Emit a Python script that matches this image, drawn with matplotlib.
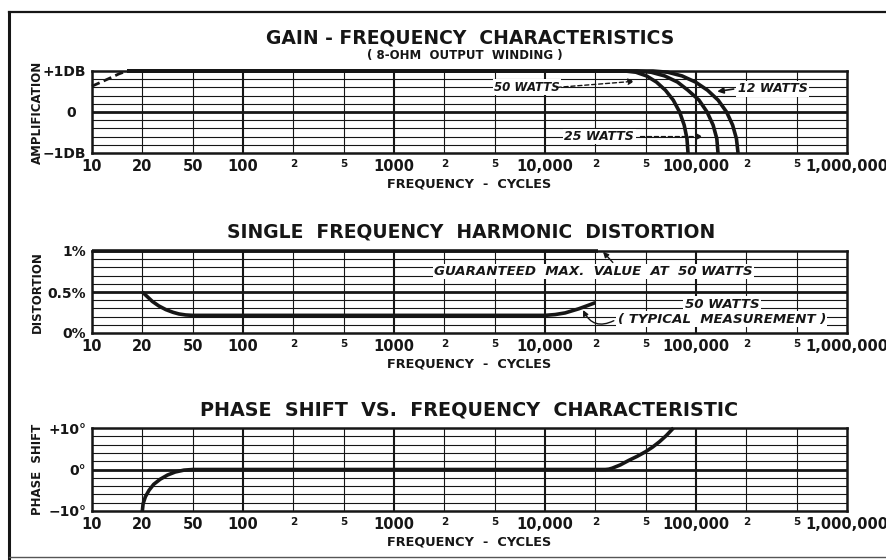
import numpy as np
import matplotlib
matplotlib.use("Agg")
import matplotlib.pyplot as plt
from matplotlib.lines import Line2D
from matplotlib.ticker import NullLocator

# ---------------- data ----------------
freq_grid = [10, 20, 50, 100, 200, 500, 1000, 2000, 5000, 10000,
             20000, 50000, 100000, 200000, 500000, 1000000]
freq_labels = ["10", "20", "50", "100", "2", "5", "1000", "2", "5", "10,000",
               "2", "5", "100,000", "2", "5", "1,000,000"]

# Gain-frequency (dB)
gain_lf_freq = [10, 11.5, 13, 14.5, 16.2]
gain_lf_db = [0.63, 0.74, 0.84, 0.93, 1.0]
gain50_freq = [16.2, 34300, 41900, 50600, 58000, 65700, 73100, 79800, 85000, 88300, 89600]
gain50_db = [1.0, 1.0, 0.97, 0.88, 0.73, 0.53, 0.29, 0.0, -0.32, -0.65, -1.0]
gain25_freq = [16.2, 42700, 53900, 64950, 77500, 89550, 104200, 116500, 126600, 133200, 135400]
gain25_db = [1.0, 1.0, 0.97, 0.88, 0.73, 0.53, 0.29, 0.0, -0.32, -0.65, -1.0]
gain12_freq = [16.2, 55300, 67800, 82500, 99300, 117300, 135600, 152400, 165600, 174500, 178400]
gain12_db = [1.0, 1.0, 0.97, 0.88, 0.73, 0.53, 0.29, 0.0, -0.32, -0.65, -1.0]

# Harmonic distortion (%)
guar_freq = [10, 21000]
guar_pct = [1.0, 1.0]
dist_freq = [20, 22, 24, 27, 30.7, 35, 39, 44, 50,
             10000, 11500, 13200, 15900, 18000, 20000]
dist_pct = [0.5, 0.44, 0.385, 0.33, 0.285, 0.252, 0.232, 0.22, 0.215,
            0.215, 0.225, 0.245, 0.295, 0.335, 0.37]

# Phase shift (degrees)
phase_freq = [20, 20.28, 21.13, 22.6, 24.6, 27.7, 31.6, 36.4, 42.7, 50,
              24000, 25500, 27100, 31500, 36800, 43000, 50000, 55000, 60500, 66500, 73300]
phase_deg = [-10, -8.26, -6.58, -5.0, -3.57, -2.34, -1.34, -0.60, -0.15, 0,
             0, 0.08, 0.3, 1.1, 2.2, 3.2, 4.3, 5.4, 6.7, 8.2, 10]

# ---------------- scale: equally spaced 1-2-5 frequency grid ----------------
_kx = np.log10(np.array(freq_grid, dtype=float))
_ki = np.arange(len(freq_grid), dtype=float)
_L2 = np.log10(2.0)


def fwd(x):
    lx = np.log10(np.clip(np.asarray(x, dtype=float), 1e-12, None))
    out = np.interp(lx, _kx, _ki)
    out = np.where(lx < _kx[0], (lx - _kx[0]) / _L2, out)
    out = np.where(lx > _kx[-1], _ki[-1] + (lx - _kx[-1]) / _L2, out)
    return out


def inv(p):
    p = np.asarray(p, dtype=float)
    lx = np.interp(p, _ki, _kx)
    lx = np.where(p < 0, _kx[0] + p * _L2, lx)
    lx = np.where(p > _ki[-1], _kx[-1] + (p - _ki[-1]) * _L2, lx)
    return 10 ** lx


INK = "#161616"
plt.rcParams["font.family"] = ["DejaVu Sans"]

W, H = 887, 560
fig = plt.figure(figsize=(W / 100, H / 100), dpi=100)
fig.patch.set_facecolor("white")


def px_axes(x0, y0, x1, y1):
    return fig.add_axes([x0 / W, 1 - y1 / H, (x1 - x0) / W, (y1 - y0) / H])


def style(ax, ylim, yticks, ylabels, yminor, ylabel):
    ax.set_xscale("function", functions=(fwd, inv))
    ax.set_xlim(freq_grid[0], freq_grid[-1])
    ax.set_ylim(*ylim)
    ax.set_xticks(freq_grid)
    ax.set_xticklabels(freq_labels)
    ax.xaxis.set_minor_locator(NullLocator())
    ax.set_yticks(yticks)
    ax.set_yticklabels(ylabels)
    ax.set_yticks(yminor, minor=True)
    ax.tick_params(which="both", length=0)
    ax.tick_params(axis="x", pad=4, labelsize=10.5, colors=INK)
    ax.tick_params(axis="y", pad=4, labelsize=10, colors=INK)
    for lbl in ax.get_xticklabels() + ax.get_yticklabels():
        lbl.set_fontweight("bold")
    for lbl in ax.get_xticklabels():
        if lbl.get_text() in ("2", "5"):
            lbl.set_fontsize(7.5)
    ax.grid(True, which="both", color=INK, lw=0.8)
    ygl = ax.get_ygridlines()
    ygl[1].set_linewidth(2.0)
    for i, gl in enumerate(ax.get_xgridlines()):
        if i in (3, 6, 9, 12):
            gl.set_linewidth(1.5)
    for sp in ax.spines.values():
        sp.set_linewidth(1.8)
        sp.set_color(INK)
    ax.set_axisbelow(True)
    ax.set_ylabel(ylabel, fontsize=8.5, fontweight="bold", color=INK)
    ax.yaxis.set_label_coords(-0.064, 0.5)
    ax.set_xlabel("FREQUENCY  -  CYCLES", fontsize=9.3, fontweight="bold",
                  color=INK, labelpad=3)


ax1 = px_axes(92, 71, 847, 153)
ax2 = px_axes(92, 251, 847, 333)
ax3 = px_axes(92, 428, 847, 511)

style(ax1, (-1, 1), [-1, 0, 1], ["\u22121DB", "0  ", "+1DB"],
      [-0.8, -0.6, -0.4, -0.2, 0.2, 0.4, 0.6, 0.8], "AMPLIFICATION")
style(ax2, (0, 1), [0, 0.5, 1], ["0%", "0.5%", "1%"],
      [0.1, 0.2, 0.3, 0.4, 0.6, 0.7, 0.8, 0.9], "DISTORTION")
style(ax3, (-10, 10), [-10, 0, 10], ["\u221210\u00b0", "0\u00b0", "+10\u00b0"],
      [-8, -6, -4, -2, 2, 4, 6, 8], "PHASE  SHIFT")

LW = 2.6
# ----- gain -----
ax1.plot(gain_lf_freq, gain_lf_db, color=INK, lw=2.0, ls=(0, (3, 1.6)), clip_on=False)
for fx, fy in ((gain50_freq, gain50_db), (gain25_freq, gain25_db), (gain12_freq, gain12_db)):
    ax1.plot(fx, fy, color=INK, lw=LW, clip_on=False, solid_capstyle="butt",
             solid_joinstyle="round")

tfont = dict(fontsize=9, fontweight="bold", fontstyle="italic", color=INK)
wbox = dict(facecolor="white", edgecolor="none", pad=1.0)
ax1.text(7800, 0.6, "50 WATTS", ha="center", va="center", bbox=wbox,
         fontsize=8.5, fontweight="bold", fontstyle="italic", color=INK)
ax1.annotate("", xy=(40800, 0.75), xytext=(11800, 0.6),
             arrowprops=dict(arrowstyle="-|>", lw=1.0, ls=(0, (3, 2)), color=INK,
                             mutation_scale=9, shrinkA=0, shrinkB=0))
ax1.text(322000, 0.57, "12 WATTS", ha="center", va="center", bbox=wbox, **tfont)
ax1.annotate("", xy=(134000, 0.5), xytext=(168000, 0.56),
             arrowprops=dict(arrowstyle="-|>", lw=1.2, color=INK,
                             mutation_scale=9, shrinkA=0, shrinkB=0))
ax1.text(21500, -0.6, "25 WATTS", ha="center", va="center", bbox=wbox, **tfont)
ax1.annotate("", xy=(110000, -0.6), xytext=(45500, -0.6),
             arrowprops=dict(arrowstyle="-|>", lw=1.0, ls=(0, (3, 2)), color=INK,
                             mutation_scale=9, shrinkA=0, shrinkB=0))

# ----- distortion -----
mfont = dict(tfont, fontsize=9.6)
ax2.plot(guar_freq, guar_pct, color=INK, lw=LW, clip_on=False, solid_capstyle="butt")
ax2.plot(dist_freq, dist_pct, color=INK, lw=LW, clip_on=False, solid_capstyle="butt",
         solid_joinstyle="round")
ax2.text(19500, 0.75, "GUARANTEED  MAX.  VALUE  AT  50 WATTS", ha="center", va="center",
         bbox=wbox, **mfont)
ax2.annotate("", xy=(23000, 0.99), xytext=(27500, 0.86),
             arrowprops=dict(arrowstyle="-|>", lw=1.0, color=INK,
                             mutation_scale=8, shrinkA=0, shrinkB=0))
ax2.text(143000, 0.35, "50 WATTS", ha="center", va="center", bbox=wbox, **mfont)
ax2.text(143000, 0.17, "( TYPICAL  MEASUREMENT )", ha="center", va="center",
         bbox=wbox, **mfont)
ax2.annotate("", xy=(16900, 0.28), xytext=(28000, 0.15),
             arrowprops=dict(arrowstyle="-|>", lw=1.0, color=INK, mutation_scale=8,
                             shrinkA=0, shrinkB=0,
                             connectionstyle="arc3,rad=-0.5"))

# ----- phase -----
ax3.plot(phase_freq, phase_deg, color=INK, lw=LW, clip_on=False, solid_capstyle="butt",
         solid_joinstyle="round")

# ----- titles -----
title_kw = dict(ha="center", va="center", fontsize=13.5, fontweight="bold", color=INK)
fig.text(470 / W, 1 - 38 / H, "GAIN - FREQUENCY  CHARACTERISTICS", **title_kw)
fig.text(465 / W, 1 - 56 / H, "( 8-OHM  OUTPUT  WINDING )", ha="center", va="center",
         fontsize=8.5, fontweight="bold", color=INK)
fig.text(471 / W, 1 - 232 / H, "SINGLE  FREQUENCY  HARMONIC  DISTORTION", **title_kw)
fig.text(469 / W, 1 - 410 / H, "PHASE  SHIFT  VS.  FREQUENCY  CHARACTERISTIC",
         **dict(title_kw, fontsize=13.8))

# ----- page frame -----
fig.add_artist(Line2D([9 / W, 9 / W], [1 - 12 / H, 1 - 558 / H], color=INK, lw=2.2))
fig.add_artist(Line2D([9 / W, 1.0], [1 - 12 / H, 1 - 12 / H], color=INK, lw=1.6))
fig.add_artist(Line2D([9 / W, 1.0], [1 - 557 / H, 1 - 557 / H], color="#555555", lw=1.0))

fig.savefig("out.png", dpi=100, facecolor="white")
